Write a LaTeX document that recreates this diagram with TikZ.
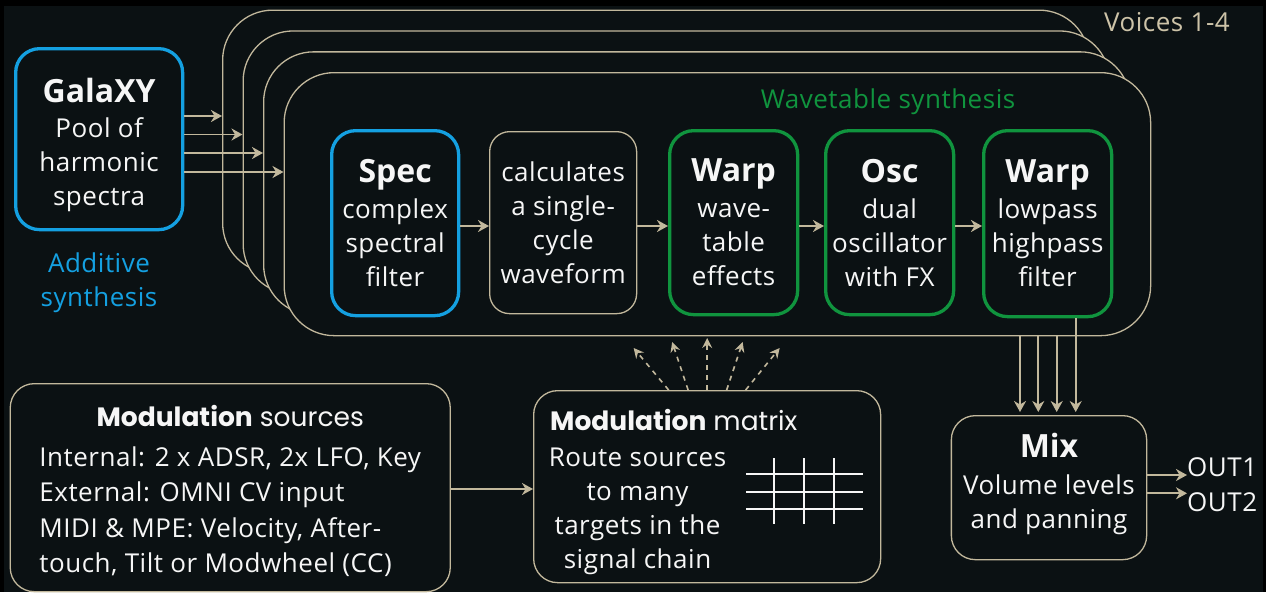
\documentclass[tikz,border=0pt]{standalone}
\usepackage{fontspec}
\setmainfont{Open Sans}[LetterSpace=2.0, BoldFeatures={LetterSpace=0}]
\newfontfamily\gothic{Poppins}
\usetikzlibrary{arrows.meta,calc}
\definecolor{bg}{RGB}{11,17,19}
\definecolor{tanc}{RGB}{194,184,156}
\definecolor{vtext}{RGB}{205,195,168}
\definecolor{ablue}{RGB}{20,160,225}
\definecolor{agreen}{RGB}{16,148,62}
\definecolor{wtext}{RGB}{246,246,246}
\newcommand\rfont{\fontsize{26pt}{34pt}\selectfont}
\newcommand\tfont{\fontsize{32pt}{36pt}\selectfont\bfseries}
\tikzset{
  base/.style={align=center, text=wtext, inner sep=0pt, font=\rfont, anchor=north west},
  bluebox/.style={base, draw=ablue, line width=3.3pt, rounded corners=24pt},
  greenbox/.style={base, draw=agreen, line width=3.3pt, rounded corners=24pt},
  tanbox/.style={base, draw=tanc, line width=1.3pt, rounded corners=24pt},
  voice/.style={draw=tanc, line width=1.3pt, fill=bg, rounded corners=50pt,
    minimum width=866.5pt, minimum height=263pt, anchor=north west, inner sep=0pt},
  arr/.style={draw=tanc, line width=1.8pt, -{Stealth[length=11pt,width=12pt,inset=3.5pt]}},
  dasharr/.style={draw=tanc, line width=1.6pt, dash pattern=on 5pt off 5pt,
    -{Stealth[length=10pt,width=10pt,inset=3.5pt]}},
  gridline/.style={draw=wtext, line width=2pt},
  plain/.style={inner sep=0pt, font=\rfont, text=wtext}
}
\begin{document}
\begin{tikzpicture}[x=1pt,y=-1pt]
\useasboundingbox (0,0) rectangle (1266,592);
\fill[black] (0,0) rectangle (1266,592);
\fill[bg] (4,6) rectangle (1263,592);

% voice stack
\node[voice] (v1) at (222,9.5) {};
\node[voice] (v2) at (242.5,30.3) {};
\node[voice] (v3) at (263,51.2) {};
\node[voice] (v4) at (283.5,72) {};

\node[plain, text=vtext] (vc) at (1167,22.5) {Voices 1-4};
\node[plain, text=agreen] (wt) at (888,102) {Wavetable synthesis};

% GalaXY
\node[bluebox, minimum width=167pt, minimum height=181pt] (gal) at (14,47)
  {{\tfont\rule{0pt}{36pt}GalaXY}\\[1pt]Pool of\\harmonic\\spectra};
\node[plain, text=ablue, align=center] (add) at (99,282.5) {Additive\\synthesis};

\draw[arr] (gal.east |- 0,116) -- (v1.west |- 0,116);
\draw[arr] (gal.east |- 0,134.5) -- (v2.west |- 0,134.5);
\draw[arr] (gal.east |- 0,153) -- (v3.west |- 0,153);
\draw[arr] (gal.east |- 0,172) -- (v4.west |- 0,172);

% chain
\node[bluebox, minimum width=127pt, minimum height=185pt] (spec) at (330,129)
  {{\tfont Spec}\\[2pt]complex\\spectral\\filter};
\node[tanbox, rounded corners=20pt, minimum width=147pt, minimum height=182pt] (calc) at (489,131)
  {calculates\\a single-\\cycle\\waveform};
\node[greenbox, minimum width=128pt, minimum height=184pt] (wp1) at (668,129)
  {{\tfont Warp}\\[2pt]wave-\\table\\effects};
\node[greenbox, minimum width=128pt, minimum height=184pt] (osc) at (824,129)
  {{\tfont Osc}\\[2pt]dual\\oscillator\\with FX};
\node[greenbox, minimum width=128pt, minimum height=186pt] (wp2) at (982,129)
  {{\tfont Warp}\\[2pt]lowpass\\highpass\\filter};

\draw[arr] (spec.east |- 0,226) -- (calc.west |- 0,226);
\draw[arr] (calc.east |- 0,226) -- (wp1.west |- 0,226);
\draw[arr] (wp1.east |- 0,226) -- (osc.west |- 0,226);
\draw[arr] (osc.east |- 0,226) -- (wp2.west |- 0,226);

% modulation sources
\node[tanbox, minimum width=440pt, minimum height=208pt] (ms) at (9.6,383) {};
\node[plain, anchor=center] (mst) at ($(ms.center)+(0,5)$)
  {\fontsize{26pt}{35.5pt}\selectfont\begin{tabular}{@{}l@{}}
   \multicolumn{1}{@{}c@{}}{\gothic\fontsize{26.5pt}{35.5pt}\selectfont{\bfseries Modulation} sources}\\[4pt]
   Internal: 2 x ADSR, 2x LFO, Key\\
   External: OMNI CV input\\
   MIDI \& MPE: Velocity, After-\\
   touch, Tilt or Modwheel (CC)
   \end{tabular}};

% modulation matrix
\node[tanbox, minimum width=347pt, minimum height=192pt] (mm) at (533,390) {};
\node[plain, anchor=west] (mmh) at (550,420) {\gothic\fontsize{26.5pt}{34pt}\selectfont{\bfseries Modulation} matrix};
\node[plain, align=center] (mmb) at (637.5,511) {Route sources\\to many\\targets in the\\signal chain};
\draw[gridline] (746,474) -- (863,474);
\draw[gridline] (746,491.7) -- (863,491.7);
\draw[gridline] (746,509) -- (863,509);
\draw[gridline] (774,458) -- (774,524);
\draw[gridline] (804,458) -- (804,524);
\draw[gridline] (834,458) -- (834,524);

\draw[arr] (ms.east |- 0,489) -- (mm.west |- 0,489);

\draw[dasharr] ($(mm.north)+(-38.5,0)$) -- ++(-35,-42);
\draw[dasharr] ($(mm.north)+(-19,0)$) -- ++(-16,-48);
\draw[dasharr] ($(mm.north)+(0,0)$) -- ++(0,-52);
\draw[dasharr] ($(mm.north)+(19.5,0)$) -- ++(16,-48);
\draw[dasharr] ($(mm.north)+(38.5,0)$) -- ++(34,-42);

% mix
\node[tanbox, minimum width=195.3pt, minimum height=144pt] (mix) at (950.7,415)
  {{\tfont Mix}\\[3pt]Volume levels\\and panning\rule[-14pt]{0pt}{14pt}};

\draw[arr, shorten >=3pt] (1020,0 |- v4.south) -- (1020,0 |- mix.north);
\draw[arr, shorten >=3pt] (1038.3,0 |- v4.south) -- (1038.3,0 |- mix.north);
\draw[arr, shorten >=3pt] (1056.7,0 |- v4.south) -- (1056.7,0 |- mix.north);
\draw[arr, shorten >=3pt] (1075.7,0 |- wp2.south) -- (1075.7,0 |- mix.north);

\node[plain, anchor=west] (o1) at (1187,467) {OUT1};
\node[plain, anchor=west] (o2) at (1187,502) {OUT2};
\draw[arr] (mix.east |- 0,475) -- (o1.west |- 0,475);
\draw[arr] (mix.east |- 0,493.3) -- (o2.west |- 0,493.3);
\end{tikzpicture}
\end{document}
